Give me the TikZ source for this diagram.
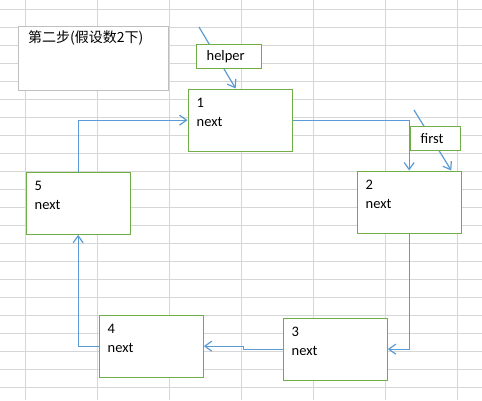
\documentclass[tikz,border=0pt]{standalone}
\usepackage{fontspec}
\setmainfont{Carlito}
\newfontfamily\cjk{Noto Sans CJK SC}
\usetikzlibrary{arrows.meta, calc}
\definecolor{cellgreen}{RGB}{112,173,71}
\definecolor{linkblue}{RGB}{91,155,213}
\definecolor{gridgray}{RGB}{214,214,214}
\definecolor{notegray}{RGB}{191,191,191}

\begin{document}
\begin{tikzpicture}[
        x=1pt, y=-1pt,
        cell/.style={draw=cellgreen, fill=white, line width=1.3pt, anchor=north west, minimum width=104pt, minimum height=62pt, inner sep=0pt},
        celltext/.style={anchor=north west, align=left, inner sep=0pt, font=\fontsize{14.5}{18.7}\selectfont},
        notebox/.style={draw=notegray, fill=white, line width=1.2pt, anchor=north west, minimum width=150pt, minimum height=64pt, inner sep=0pt},
        notetext/.style={anchor=north west, inner sep=0pt, font=\cjk\fontsize{14}{17}\selectfont},
        tag/.style={draw=cellgreen, fill=white, line width=1.3pt, anchor=north west, minimum height=24pt, inner xsep=10.5pt, inner ysep=0pt, align=left, font=\fontsize{14.5}{17}\selectfont},
        link/.style={draw=linkblue, line width=1.2pt, -{Straight Barb[length=7pt,width=10pt]}},
        gridline/.style={draw=gridgray, line width=1pt}
    ]
    \useasboundingbox (0,0) rectangle (482,400);

    % ---- spreadsheet grid ----
    \foreach \gx in {25.5,97.5,...,480} \draw[gridline] (\gx,0) -- (\gx,400);
    \foreach \gy in {9.5,27.5,...,390} \draw[gridline] (0,\gy) -- (482,\gy);

    % ---- note box ----
    \node[notebox] (note) at (17.5,25.5) {};
    \node[notetext] (notet) at ($(note.north west)+(10.5,5)$) {第二步(假设数2下)};

    % ---- list cells ----
    \node[cell] (n1) at (187.5,88.5) {};
    \node[cell] (n2) at (356.5,170.5) {};
    \node[cell] (n3) at (282.5,317.5) {};
    \node[cell] (n4) at (98.5,314.5) {};
    \node[cell] (n5) at (25.5,171.5) {};
    \foreach \c in {1,...,5}
        \node[celltext] (t\c) at ($(n\c.north west)+(9,9.5)$) {\c\\next};

    % ---- next links ----
    \draw[link] (n1.east) -| (n2.north);
    \draw[link] (n2.south) |- (n3.east);
    \draw[link] (n3.west) -| ($(n3.west)!.5!(n4.east)$) |- (n4.east);
    \draw[link] (n4.west) -| (n5.south);
    \draw[link] (n5.north) |- (n1.west);

    % ---- pointers ----
    \coordinate (hs) at (199,27);
    \draw[link] (hs) -- ([xshift=-4.5pt]n1.north);
    \node[tag, text width=44pt] (helper) at (195.5,43.5) {helper};
    \coordinate (fs) at (414,110);
    \draw[link] (fs) -- ([xshift=-10.5pt]n2.north east);
    \node[tag, text width=29pt] (first) at (409.5,125.5) {first};
\end{tikzpicture}
\end{document}
